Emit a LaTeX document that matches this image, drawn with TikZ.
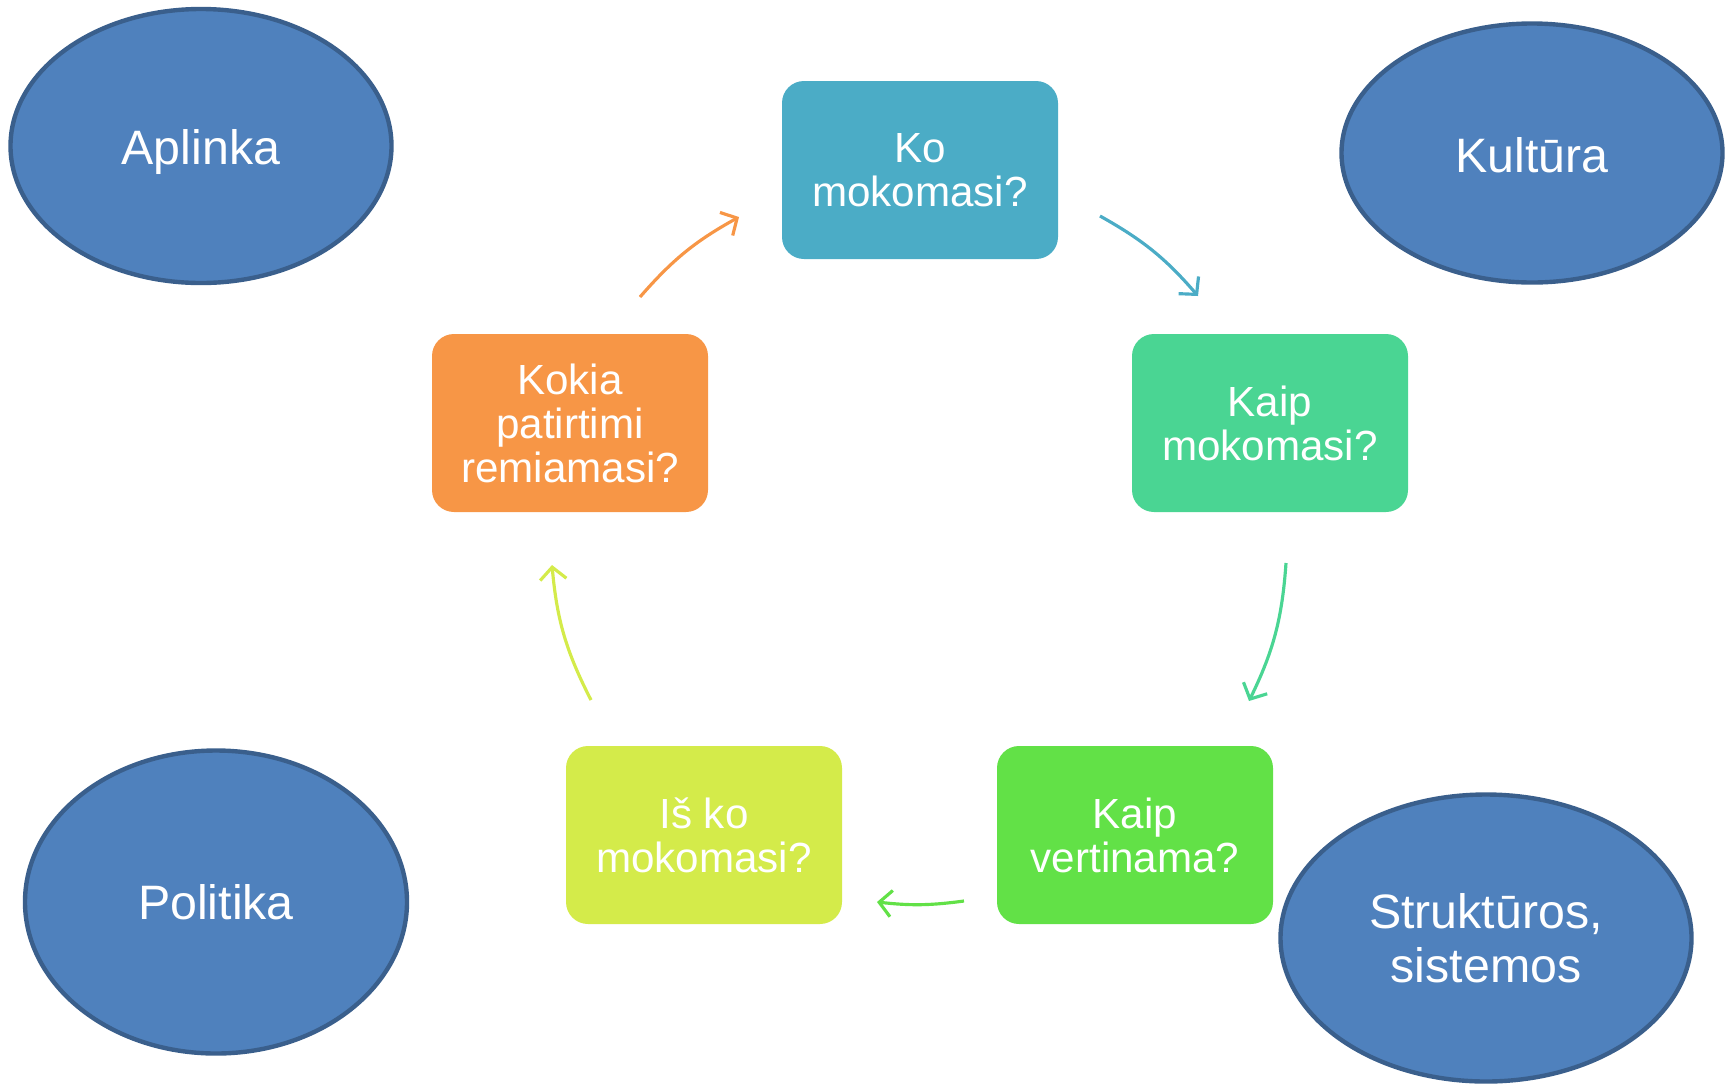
\documentclass[tikz,border=0pt]{standalone}
\usepackage{fontspec}
\setmainfont{Liberation Sans}
\usetikzlibrary{shapes.geometric,arrows.meta}
\definecolor{ellfill}{HTML}{4F81BD}
\definecolor{elldraw}{HTML}{3A5F8C}
\definecolor{cA}{HTML}{4BACC6}
\definecolor{cB}{HTML}{4AD593}
\definecolor{cC}{HTML}{62E147}
\definecolor{cD}{HTML}{D4EB4A}
\definecolor{cE}{HTML}{F79646}
\begin{document}
\begin{tikzpicture}[x=0.02cm,y=-0.02cm,
  ell/.style={ellipse,fill=ellfill,draw=elldraw,line width=2.5pt,text=white,
    font=\fontsize{27.5}{31}\selectfont,align=center,inner sep=0pt},
  qbox/.style={rounded corners=12.5pt,text=white,minimum width=276*0.02cm,
    minimum height=178*0.02cm,align=center,font=\fontsize{24}{25}\selectfont,inner sep=0pt},
  cyc/.style={line width=1.8pt,-{Straight Barb[length=7pt,width=15pt]}}]
\useasboundingbox (0,0) rectangle (1731,1083);
% context ellipses
\node[ell,minimum width=381*0.02cm,minimum height=274*0.02cm] (aplinka) at (201,146) {};
\node[text=white,font=\fontsize{27.5}{31}\selectfont] (aplinkatxt) at (201,152) {Aplinka};
\node[ell,minimum width=381*0.02cm,minimum height=259*0.02cm] (kultura) at (1532,153) {};
\node[text=white,font=\fontsize{27.5}{31}\selectfont] (kulturatxt) at (1532,155) {Kultūra};
\node[ell,minimum width=382*0.02cm,minimum height=303*0.02cm] (politika) at (216,902) {Politika};
\node[ell,minimum width=411*0.02cm,minimum height=287*0.02cm] (strukturos) at (1486,938) {Struktūros,\\sistemos};
% cycle boxes
\node[qbox,fill=cA] (ko) at (920,170) {Ko\\mokomasi?};
\node[qbox,fill=cB] (kaipm) at (1270,423) {Kaip\\mokomasi?};
\node[qbox,fill=cC] (kaipv) at (1135,835) {Kaip\\vertinama?};
\node[qbox,fill=cD] (isko) at (704,835) {Iš ko\\mokomasi?};
\node[qbox,fill=cE] (kokia) at (570,423) {Kokia\\patirtimi\\remiamasi?};
% arrow ends
\coordinate (oS) at (640,297);  \coordinate (oE) at (739,217);
\coordinate (bS) at (1100,216); \coordinate (bE) at (1198,296);
\coordinate (gS) at (1286,563); \coordinate (gE) at (1249,701);
\coordinate (hS) at (964,901);  \coordinate (hE) at (877,902);
\coordinate (yS) at (591,700);  \coordinate (yE) at (552,565);
\draw[cyc,draw=cE] (oS) to[bend left=10] (oE);
\draw[cyc,draw=cA] (bS) to[bend left=10] (bE);
\draw[cyc,draw=cB] (gS) to[bend left=11] (gE);
\draw[cyc,draw=cC] (hS) to[bend left=7] (hE);
\draw[cyc,draw=cD] (yS) to[bend left=11] (yE);
\end{tikzpicture}
\end{document}
